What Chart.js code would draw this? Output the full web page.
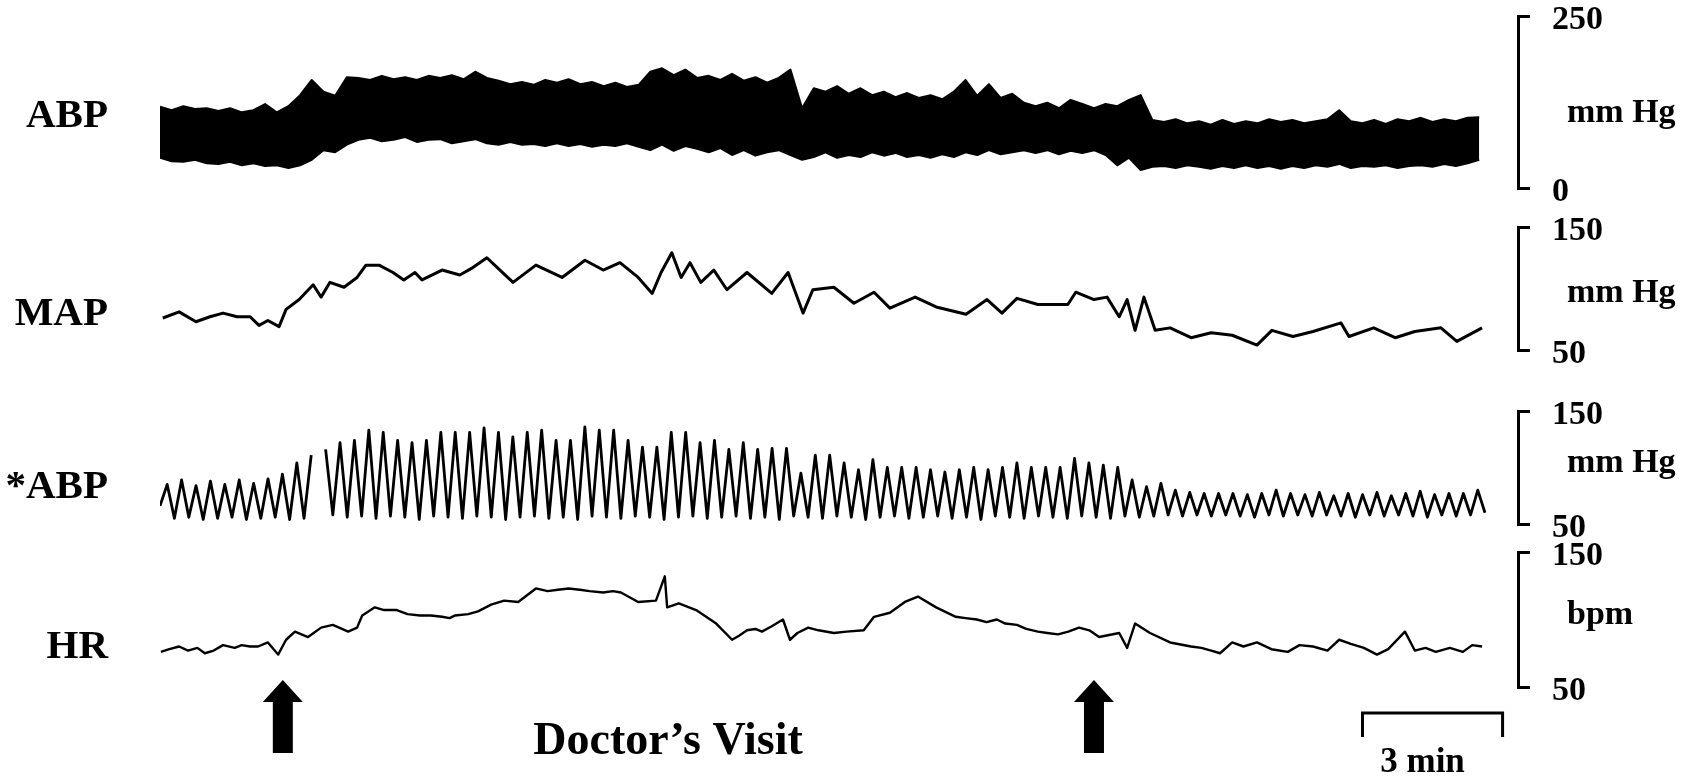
<!DOCTYPE html>
<html>
<head>
<meta charset="utf-8">
<title>Doctor's Visit</title>
<script src="https://cdn.jsdelivr.net/npm/chart.js@4.4.1/dist/chart.umd.min.js"></script>
<style>
  body { margin: 0; background: #fff; }
  #wrap { position: relative; width: 1696px; height: 778px; background: #fff; }
  #wrap canvas { position: absolute; left: 0; top: 0; }
</style>
</head>
<body>
<div id="wrap">
  <canvas id="abpChart" width="1696" height="778"></canvas>
  <canvas id="mapChart" width="1696" height="778"></canvas>
  <canvas id="starAbpChart" width="1696" height="778"></canvas>
  <canvas id="hrChart" width="1696" height="778"></canvas>
</div>
<script>
// time axis in minutes
var X_MAX = 29.08;
var visitTimes = [2.63, 20.0];      // arrows: start / end of doctor's visit
var scaleBar = [25.75, 28.75];      // 3 min bar

// ABP envelope, one reading every 0.25 min (mm Hg)
var ABP_STEP = 0.25;
var abpSys = [118,113,119,115,116,112,116,110,113,122,
  110,119,135,157,140,134,161,160,157,163,
  158,161,157,163,160,164,158,169,160,156,
  151,154,150,157,153,158,151,154,148,153,
  147,150,169,174,164,172,160,163,157,166,
  156,161,153,160,172,116,145,140,148,137,
  145,135,140,132,138,131,135,129,140,157,
  134,151,131,137,124,119,124,116,128,122,
  116,122,119,128,135,99,96,100,94,97,
  92,99,93,97,94,100,96,99,94,97,
  100,113,97,94,99,93,100,97,102,96,
  100,97,102,103];
var abpDia = [44,39,38,41,36,35,38,33,36,32,
  33,29,33,41,55,52,63,70,73,68,
  70,74,67,70,71,65,68,71,65,63,
  67,63,64,61,65,61,64,60,63,61,
  65,60,55,63,54,61,57,52,58,48,
  55,47,52,55,48,41,45,52,44,48,
  45,52,47,51,45,48,44,49,45,52,
  48,55,49,52,55,51,55,49,54,51,
  55,48,33,44,26,31,32,29,33,31,
  28,32,29,33,29,32,28,32,29,33,
  31,35,29,32,31,33,29,32,33,31,
  35,32,36,41];

// MAP (mm Hg)
var mapT = [0.06,0.41,0.77,1.07,1.35,1.65,1.93,2.12,2.31,2.55,
  2.70,2.98,3.28,3.45,3.64,3.94,4.22,4.41,4.69,4.99,
  5.22,5.46,5.61,6.04,6.42,6.70,7.00,7.28,7.56,8.05,
  8.61,9.10,9.49,9.85,10.24,10.54,10.73,10.96,11.16,11.35,
  11.58,11.86,12.14,12.57,13.10,13.45,13.77,13.98,14.43,14.86,
  15.29,15.63,16.17,16.62,17.26,17.71,18.03,18.35,18.80,19.44,
  19.61,20.00,20.28,20.54,20.71,20.88,21.07,21.31,21.63,22.08,
  22.51,22.96,23.49,23.81,24.26,24.69,25.29,25.46,25.99,26.45,
  26.87,27.43,27.77,28.31];
var mapV = [76,81,73,77,80,77,77,70,74,69,
  83,91,103,93,105,101,109,119,119,113,
  107,113,107,115,111,117,125,115,105,119,
  109,123,115,121,109,96,113,129,109,121,
  105,115,99,113,96,113,80,99,101,88,
  97,84,93,85,79,91,80,92,87,87,
  97,91,93,77,91,66,93,66,68,60,
  64,62,54,66,61,65,72,61,68,60,
  65,68,57,68];

// *ABP, trough / peak readings every 0.1542 min (mm Hg)
var STAR_STEP = 0.1542;
var starAbp = [66,85,55,89,56,84,54,88,55,85,
  56,89,54,86,55,90,56,94,54,104,
  55,111,null,116,58,122,56,124,57,133,
  55,131,57,124,56,122,54,124,57,131,
  56,131,55,131,57,135,56,131,54,127,
  56,131,57,133,55,124,56,124,54,136,
  57,133,56,133,55,124,57,118,56,118,
  54,131,56,131,57,122,55,124,56,116,
  57,122,55,116,56,117,54,117,57,95,
  56,111,55,111,57,104,56,98,54,107,
  56,100,57,100,55,100,56,98,57,96,
  55,98,56,100,54,98,57,100,56,104,
  55,100,57,100,56,100,55,108,57,104,
  56,102,55,100,57,89,56,83,57,86,
  58,80,57,78,58,77,57,77,58,77,
  57,76,56,77,58,80,57,77,58,76,
  57,78,58,75,57,77,56,76,58,78,
  57,75,58,77,57,79,56,76,58,77,
  57,77,58,80,60];

// HR (bpm)
var hrT = [0.02,0.2,0.41,0.6,0.8,0.96,1.15,1.35,1.6,1.75,
  1.93,2.1,2.31,2.53,2.70,2.89,3.17,3.45,3.70,4.03,
  4.22,4.33,4.60,4.8,5.07,5.3,5.57,5.8,6.04,6.2,
  6.32,6.6,6.81,7.09,7.37,7.67,8.05,8.3,8.52,8.75,
  8.99,9.2,9.49,9.7,9.87,10.24,10.62,10.81,10.86,11.11,
  11.48,11.91,12.25,12.4,12.57,12.75,12.89,13.1,13.34,13.49,
  13.65,13.88,14.1,14.43,14.7,15.07,15.29,15.63,15.95,16.23,
  16.62,17.04,17.25,17.49,17.7,17.92,18.1,18.35,18.55,18.80,
  19.0,19.23,19.45,19.68,19.9,20.11,20.54,20.71,20.88,21.20,
  21.63,22.08,22.3,22.51,22.7,22.96,23.2,23.49,23.8,24.15,
  24.4,24.69,25.0,25.25,25.5,25.78,26.06,26.3,26.66,26.87,
  27.1,27.32,27.62,27.9,28.1,28.31];
var hrV = [76,78,80,77,79,75,77,81,79,81,
  80,80,83,74,85,91,87,94,96,91,
  94,103,109,107,107,104,103,103,102,101,
  103,104,106,111,114,113,123,121,122,123,
  122,121,120,121,120,113,114,132,109,112,
  107,97,85,88,92,93,91,95,100,85,
  90,94,92,90,91,92,102,105,113,117,
  109,102,101,100,98,100,97,96,93,91,
  90,89,91,94,92,87,90,79,97,90,
  83,80,79,77,75,83,80,83,78,76,
  81,80,77,85,82,79,74,78,91,77,
  79,76,79,76,81,80];

var SERIF = '"Liberation Serif", "Times New Roman", serif';
var INK = '#000';

function stepPoints(values, step) {
  return values.map(function(v, i) { return { x: i * step, y: v }; });
}
function pairPoints(times, values) {
  return times.map(function(t, i) { return { x: t, y: values[i] }; });
}

// arrows, "Doctor's Visit" and the 3 min bar, under the HR trace
function drawVisit(chart) {
  var ctx = chart.ctx;
  var xs = chart.scales.x;
  ctx.save();
  ctx.fillStyle = INK;
  visitTimes.forEach(function(t) {
    var cx = xs.getPixelForValue(t);
    ctx.beginPath();
    ctx.moveTo(cx, 680);
    ctx.lineTo(cx + 20, 702);
    ctx.lineTo(cx + 10, 702);
    ctx.lineTo(cx + 10, 753);
    ctx.lineTo(cx - 10, 753);
    ctx.lineTo(cx - 10, 702);
    ctx.lineTo(cx - 20, 702);
    ctx.closePath();
    ctx.fill();
  });

  ctx.font = 'bold 46px ' + SERIF;
  ctx.textAlign = 'center';
  ctx.textBaseline = 'alphabetic';
  ctx.fillText('Doctor\u2019s Visit', 668, 754);

  var x1 = xs.getPixelForValue(scaleBar[0]);
  var x2 = xs.getPixelForValue(scaleBar[1]);
  ctx.strokeStyle = INK;
  ctx.lineWidth = 3;
  ctx.beginPath();
  ctx.moveTo(x1, 737);
  ctx.lineTo(x1, 713);
  ctx.lineTo(x2, 713);
  ctx.lineTo(x2, 737);
  ctx.stroke();
  ctx.font = 'bold 35px ' + SERIF;
  ctx.fillText((scaleBar[1] - scaleBar[0]) + ' min', (x1 + x2) / 2 - 10, 772);
  ctx.restore();
}

function makePanel(canvasId, panel, datasets) {
  var textPlugin = {
    id: 'panelText',
    afterDraw: function(chart) {
      var ctx = chart.ctx;
      var ys = chart.scales.y;
      ctx.save();
      ctx.fillStyle = INK;
      ctx.font = 'bold 41px ' + SERIF;
      ctx.textAlign = 'right';
      ctx.textBaseline = 'alphabetic';
      ctx.fillText(panel.name, 108, panel.nameY);
      ctx.font = 'bold 34px ' + SERIF;
      ctx.textAlign = 'left';
      ctx.textBaseline = 'middle';
      ctx.fillText(panel.unit, ys.left + 49, (ys.top + ys.bottom) / 2 + panel.unitShift);
      ctx.restore();
      if (panel.extra) panel.extra(chart);
    }
  };

  return new Chart(document.getElementById(canvasId), {
    type: 'line',
    data: { datasets: datasets },
    options: {
      responsive: false,
      animation: false,
      layout: { padding: { left: 160, right: 0, top: panel.top, bottom: 778 - panel.bottom } },
      plugins: { legend: { display: false }, tooltip: { enabled: false } },
      elements: { point: { radius: 0 }, line: { tension: 0, borderJoinStyle: 'round' } },
      scales: {
        x: { type: 'linear', display: false, min: 0, max: X_MAX },
        y: {
          position: 'right',
          min: panel.min,
          max: panel.max,
          // only the two ends of the bracket get a tick
          afterBuildTicks: function(s) { s.ticks = [{ value: panel.min }, { value: panel.max }]; },
          afterFit: function(s) { s.width = 178; s.paddingTop = 0; s.paddingBottom = 0; },
          ticks: {
            autoSkip: false,
            padding: 22,
            labelOffset: 4,
            color: INK,
            font: { family: SERIF, size: 34, weight: 'bold' }
          },
          grid: { drawOnChartArea: false, drawTicks: true, tickLength: 12, lineWidth: 3, color: INK },
          border: { display: true, width: 3, color: INK }
        }
      }
    },
    plugins: [textPlugin]
  });
}

makePanel('abpChart',
  { name: 'ABP', nameY: 127, unit: 'mm Hg', unitShift: 11, min: 0, max: 250, top: 16, bottom: 188 },
  [
    { data: stepPoints(abpDia, ABP_STEP), borderColor: INK, borderWidth: 2, fill: false },
    { data: stepPoints(abpSys, ABP_STEP), borderColor: INK, borderWidth: 2, fill: '-1', backgroundColor: INK }
  ]);

makePanel('mapChart',
  { name: 'MAP', nameY: 325, unit: 'mm Hg', unitShift: 5, min: 50, max: 150, top: 227, bottom: 350 },
  [ { data: pairPoints(mapT, mapV), borderColor: INK, borderWidth: 3, fill: false } ]);

makePanel('starAbpChart',
  { name: '*ABP', nameY: 498, unit: 'mm Hg', unitShift: -4, min: 50, max: 150, top: 411, bottom: 524 },
  [ { data: stepPoints(starAbp, STAR_STEP), borderColor: INK, borderWidth: 2.8, fill: false } ]);

makePanel('hrChart',
  { name: 'HR', nameY: 658, unit: 'bpm', unitShift: -4, min: 50, max: 150, top: 552, bottom: 687, extra: drawVisit },
  [ { data: pairPoints(hrT, hrV), borderColor: INK, borderWidth: 2.4, fill: false } ]);
</script>
</body>
</html>
